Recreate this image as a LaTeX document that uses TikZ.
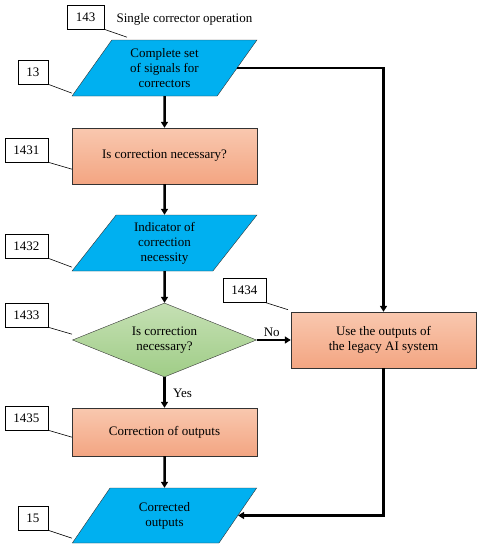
\documentclass[tikz,border=0pt]{standalone}
\usepackage{fontspec}
\setmainfont{Liberation Serif}
\usetikzlibrary{shapes.geometric, arrows.meta}
\definecolor{ioblue}{RGB}{0,176,240}
\definecolor{boxtop}{RGB}{249,200,175}
\definecolor{boxbot}{RGB}{243,165,130}
\definecolor{dectop}{RGB}{197,224,180}
\definecolor{decbot}{RGB}{160,205,135}

\begin{document}
\begin{tikzpicture}[x=1pt, y=-1pt,
    font=\fontsize{13}{15}\selectfont,
    iobox/.style={trapezium, trapezium left angle=56.5, trapezium right angle=123.5,
      trapezium stretches=true, draw=black!80, fill=ioblue, align=center,
      minimum width=185pt, minimum height=56pt, inner sep=0pt},
    stepbox/.style={rectangle, draw=black!80, top color=boxtop, bottom color=boxbot,
      align=center, minimum width=185pt, minimum height=56pt, inner sep=0pt},
    decbox/.style={diamond, draw=black!80, top color=dectop, bottom color=decbot,
      align=center, minimum width=184pt, minimum height=74pt, inner sep=0pt, shape aspect=2.5},
    numbox/.style={rectangle, draw=black, fill=white, minimum height=24pt,
      inner xsep=8.5pt, inner ysep=0pt, anchor=east},
    flow/.style={line width=2.5pt, -{Triangle[length=6pt, width=7pt]}},
    lead/.style={line width=0.6pt}
  ]
  \useasboundingbox (0,0) rectangle (482,550);

  % main column
  \node[iobox] (signals) at (164.5, 68) {Complete set\\of signals for\\correctors};
  \node[stepbox] (needed) at (164.5, 156) {Is correction necessary?};
  \node[iobox] (indicator) at (164.5, 243) {Indicator of\\correction\\necessity};
  \node[decbox] (decide) at (164.5, 340) {Is correction\\necessary?};
  \node[stepbox, minimum height=48pt] (correct) at (164.5, 432) {Correction of outputs};
  \node[iobox, minimum height=55pt] (corrected) at (164.5, 515.5) {Corrected\\outputs};
  \node[stepbox] (legacy) at (383.5, 340) {Use the outputs of\\the legacy AI system};

  \node[anchor=west] (title) at (113, 19) {Single corrector operation};

  % arrows
  \draw[flow] (signals.south) -- (needed.north);
  \draw[flow] (needed.south) -- (indicator.north);
  \draw[flow] (indicator.south) -- (decide.north);
  \draw[flow] (decide.south) -- node[right, xshift=4pt, yshift=-1pt] (yes) {Yes} (correct.north);
  \draw[flow] (decide.east) -- node[above, xshift=-2pt, yshift=-1pt] (no) {No} (legacy.west);
  \draw[flow] (correct.south) -- (corrected.north);
  \draw[flow] (signals.east) -| (legacy.north);
  \draw[flow] (legacy.south) |- (corrected.east);

  % reference numbers
  \node[numbox] (n143) at (104, 17) {143};
  \node[numbox] (n13) at (48, 72) {13};
  \node[numbox] (n1431) at (48, 150) {1431};
  \node[numbox] (n1432) at (48, 246) {1432};
  \node[numbox] (n1433) at (48, 315) {1433};
  \node[numbox] (n1434) at (266, 290.5) {1434};
  \node[numbox] (n1435) at (48, 418) {1435};
  \node[numbox] (n15) at (48, 518) {15};

  \draw[lead] (n143.south east) -- ++(23, 8);
  \draw[lead] (n13.south east) -- ++(24, 9);
  \draw[lead] (n1431.south east) -- ++(24, 7);
  \draw[lead] (n1432.south east) -- ++(24, 9);
  \draw[lead] (n1433.south east) -- ++(24, 7);
  \draw[lead] (n1434.south east) -- ++(22, 7);
  \draw[lead] (n1435.south east) -- ++(24, 7);
  \draw[lead] (n15.south east) -- ++(24, 8);
\end{tikzpicture}
\end{document}
